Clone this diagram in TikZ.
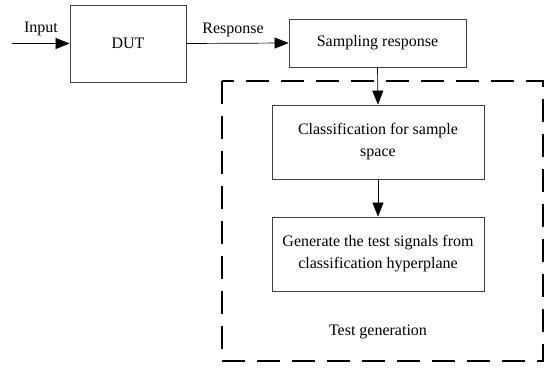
\documentclass[tikz,border=0pt]{standalone}
\usepackage{fontspec}
\setmainfont{Liberation Serif}
\usetikzlibrary{arrows.meta}
\begin{document}
\begin{tikzpicture}[x=1pt,y=-1pt,
  box/.style={draw=black!75,line width=0.8pt,inner sep=0pt,align=center,font=\fontsize{16}{22}\selectfont},
  lbl/.style={inner sep=0pt,font=\fontsize{16}{22}\selectfont},
  flow/.style={line width=0.7pt,-{Triangle[length=14pt,width=11pt]}},
  group/.style={draw,line width=2.4pt,dash pattern=on 23pt off 12pt}]
\useasboundingbox (0,0) rectangle (546,367);
% main blocks
\node[box,minimum width=116pt,minimum height=77pt] (dut) at (128,43.5) {DUT};
\node[box,minimum width=177pt,minimum height=48pt] (samp) at (377.5,43) {Sampling response};
\node[box,minimum width=212pt,minimum height=74pt] (cls) at (378,142) {Classification for sample\\space};
\node[box,minimum width=212pt,minimum height=74pt] (gen) at (378,254) {Generate the test signals from\\classification hyperplane};
% dashed group frame and its caption
\draw[group] (222,81) rectangle (543,361);
\node[lbl] (tg) at (378,332) {Test generation};
% connectors
\coordinate (in) at (12,43.5);
\draw[flow] (in) -- (dut.west);
\node[lbl,anchor=south] (inlbl) at (41,36) {Input};
\draw[flow] (dut.east) -- (samp.west);
\node[lbl,anchor=south] (resp) at (233,37) {Response};
\draw[flow] (samp.south) -- (cls.north);
\draw[flow] (cls.south) -- (gen.north);
\end{tikzpicture}
\end{document}
